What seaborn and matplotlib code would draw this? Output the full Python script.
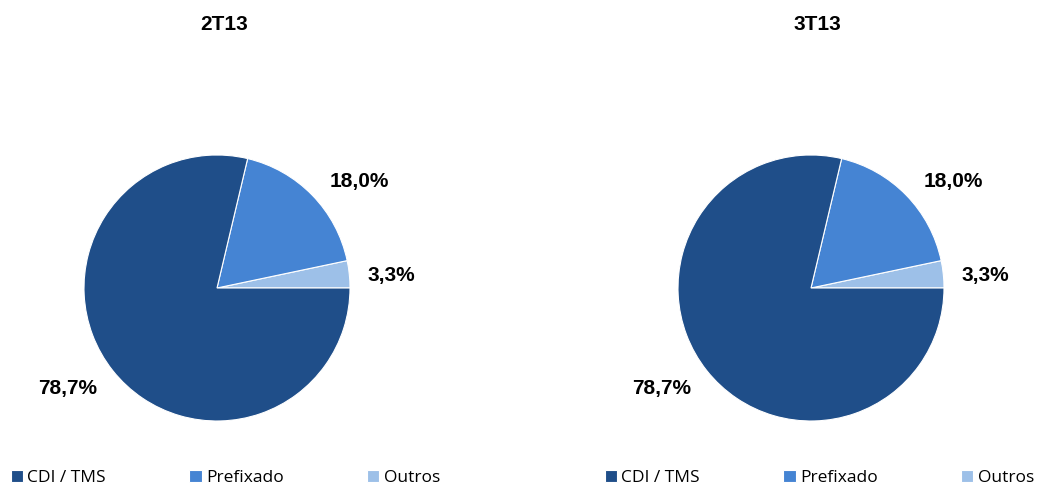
import numpy as np
import matplotlib
matplotlib.use("Agg")
import matplotlib.pyplot as plt
import seaborn as sns

# data
periods = ["2T13", "3T13"]
categories = ["CDI / TMS", "Prefixado", "Outros"]
share_2t13 = [78.7, 18.0, 3.3]
share_3t13 = [78.7, 18.0, 3.3]
colors = ["#1F4E89", "#4584D3", "#9DC0E8"]

sns.set_style("white")
plt.rcParams["font.family"] = ["Liberation Sans", "DejaVu Sans"]
plt.rcParams["text.color"] = "black"

W, H = 1038, 486
R = 133
PAD = 1.02
centers = [(217, 288), (811, 288)]

fig = plt.figure(figsize=(W / 100, H / 100), dpi=100)

for period, shares, (cx, cy) in zip(periods, [share_2t13, share_3t13], centers):
    half = R * PAD
    ax = fig.add_axes([(cx - half) / W, (H - cy - half) / H, 2 * half / W, 2 * half / H])
    # drawn counterclockwise from 3 o'clock, smallest slice first
    wedges, _ = ax.pie(
        shares[::-1],
        colors=colors[::-1],
        startangle=0,
        counterclock=True,
        radius=1,
        wedgeprops=dict(edgecolor="white", linewidth=0.8),
    )
    ax.set_xlim(-PAD, PAD)
    ax.set_ylim(-PAD, PAD)
    ax.axis("off")

    # outside-end labels, roughly the way the spreadsheet places them
    for w, val in zip(wedges, shares[::-1]):
        theta = np.deg2rad((w.theta1 + w.theta2) / 2)
        x, y = 1.1 * np.cos(theta), 1.1 * np.sin(theta)
        ha = "left" if x > 0 else "right"
        if y > 0.3:
            va = "bottom"
            x += 0.06
            y -= 0.04
        elif y < -0.3:
            va = "top"
            x -= 0.04
        else:
            va = "center"
            x += 0.04
            y -= 0.02
        ax.text(x, y, f"{val:.1f}%".replace(".", ","), ha=ha, va=va,
                fontsize=15, fontweight="bold", color="black")

    ax.text(0.05, 1.98, period, ha="center", va="center",
            fontsize=15, fontweight="bold", color="black")

    order = wedges[::-1]
    leg = ax.legend(
        order, categories,
        loc="center left",
        bbox_to_anchor=((cx - 206) / W, 8 / H),
        bbox_transform=fig.transFigure,
        ncol=3, frameon=False,
        prop={"family": "Open Sans", "size": 12.5},
        handlelength=0.7, handleheight=0.7,
        handletextpad=0.25, columnspacing=4.8,
        borderpad=0, borderaxespad=0,
    )
    for t in leg.get_texts():
        t.set_color("black")

fig.savefig("out.png", dpi=100)
